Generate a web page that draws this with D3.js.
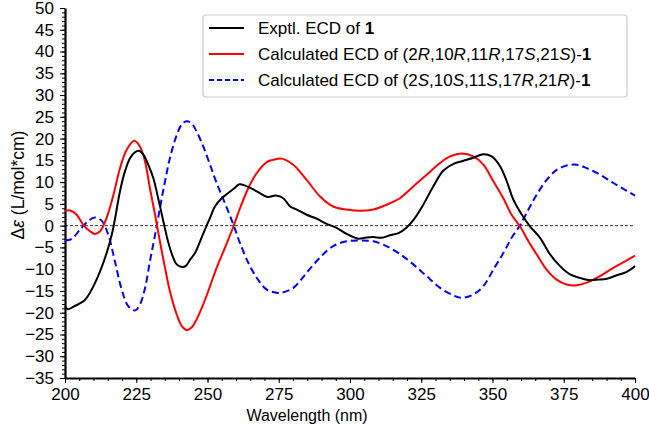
<!DOCTYPE html>
<html>
<head>
<meta charset="utf-8">
<script src="https://cdn.jsdelivr.net/npm/d3@7"></script>
<style>
  body { margin: 0; background: #fff; }
  text { font-family: "Liberation Sans", Arial, sans-serif; fill: #000; }
</style>
</head>
<body>
<div id="chart"></div>
<script>
// Experimental ECD (wavelength nm, delta epsilon)
var exptWl = [200, 201, 203, 206.4, 207.6, 210, 212.3, 214.6, 216.4, 217.5, 219.3, 221, 222.8, 224.6, 226,
    227.5, 229.2, 231, 232.7, 234.5, 236.3, 238, 239.2, 241, 242.3, 243.9, 245.6, 247.4, 249.1, 250.9,
    252.6, 255, 257.3, 259.1, 261.2, 263.2, 265.5, 267.8, 271, 274, 276.6, 279, 281.3, 284.8, 288.3,
    291.8, 295.3, 298.8, 302.9, 305.8, 308.2, 311.1, 314, 317, 319.9, 322.8, 325.7, 329.2, 332.7,
    336.3, 339.8, 343.3, 346.8, 349.7, 352.7, 355, 357.3, 360.3, 363.2, 366.7, 370.2, 373.7, 377.2,
    380.7, 383.6, 387.2, 390.1, 393.6, 397.1, 400];
var exptVal = [-18.5, -19.2, -18.6, -17.4, -16.6, -13.9, -10.5, -6.3, -2.1, 1.4, 7.9, 12.4, 15.5, 16.9, 17.2,
    16.3, 14.0, 10.9, 6.3, 1.0, -4.0, -7.4, -8.9, -9.5, -9.3, -7.8, -6.3, -3.6, -0.9, 1.8,
    4.4, 6.3, 7.5, 8.4, 9.5, 9.2, 8.5, 7.7, 6.6, 6.9, 6.3, 4.4, 3.7, 2.5, 1.6,
    0.4, -0.5, -1.9, -3.0, -2.7, -2.6, -2.8, -2.2, -1.7, -0.4, 1.8, 4.8, 9.0, 12.6,
    14.2, 14.9, 15.6, 16.4, 15.9, 13.6, 10.2, 6.0, 2.5, -0.2, -2.8, -6.6, -9.3, -11.2,
    -12.0, -12.5, -12.4, -12.2, -11.4, -10.6, -9.3];

// Calculated ECD of (2R,10R,11R,17S,21S)-1
var calcRWl = [200, 201.8, 204.1, 206.4, 208.8, 210.5, 212.3, 214.6, 217, 219.3, 221.6, 224.3, 226.3, 228.1,
    229.8, 231.6, 233.3, 235.1, 236.8, 239.2, 241, 242.7, 244.4, 246.2, 248.5, 250.9, 253.2, 256.1,
    259.1, 261.4, 264.3, 267.3, 270.8, 274.3, 276, 280.1, 284.8, 289.5, 294.1, 298.8, 303.5, 308.2,
    312.8, 317.5, 322.2, 326.9, 331.6, 335.1, 339.2, 343.3, 346.8, 350.3, 353.8, 356.7, 359.7,
    362.6, 365.5, 369, 372.5, 376, 379.6, 383.1, 387.7, 392.4, 397.1, 400];
var calcRVal = [3.4, 3.5, 2.5, 0.2, -1.3, -1.9, -1.3, 1.8, 7.1, 13.2, 17.4, 19.5, 18.2, 14.7,
    8.6, 2.5, -3.6, -9.7, -15.0, -20.4, -23.1, -24.0, -23.4, -21.5, -18.1, -13.9, -9.7, -5.1,
    -0.2, 4.0, 8.6, 12.1, 14.6, 15.3, 15.4, 14.0, 10.5, 6.7, 4.4, 3.7, 3.4, 3.7,
    4.8, 6.3, 9.0, 11.7, 14.4, 15.9, 16.6, 15.9, 14.0, 10.2, 6.3, 2.5, -0.2,
    -3.6, -6.6, -10.1, -12.4, -13.5, -13.7, -13.1, -11.6, -9.7, -8.0, -6.9];

// Calculated ECD of (2S,10S,11S,17R,21R)-1
var calcSWl = [200, 202.3, 205.3, 208.2, 210.5, 212.9, 215.2, 217.5, 219.9, 222.2, 224.6, 226.3, 228.1,
    229.8, 231.6, 233.3, 235.1, 236.8, 239.2, 241, 242.7, 244.4, 246.2, 248.5, 250.9, 253.2, 256.1,
    259.1, 261.4, 264.3, 267.3, 270.8, 274.3, 276, 280.1, 284.8, 289.5, 294.1, 298.8, 303.5, 308.2,
    312.8, 317.5, 322.2, 326.9, 331.6, 336.2, 339.2, 343.3, 346.8, 350.3, 353.8, 356.7, 359.7,
    362.6, 365.5, 369, 372.5, 376, 379.6, 383.1, 387.7, 392.4, 397.1, 400];
var calcSVal = [-3.4, -3.1, -0.9, 1.1, 1.9, 1.1, -2.1, -8.2, -14.7, -18.5, -19.5, -18.1, -14.3,
    -8.2, -2.1, 4.0, 10.2, 15.5, 20.8, 23.3, 24.0, 23.5, 21.6, 18.2, 14.0, 9.8, 5.2,
    0.2, -4.0, -8.5, -12.0, -14.7, -15.4, -15.4, -14.3, -10.8, -7.3, -4.7, -3.6, -3.4, -3.6,
    -4.7, -6.5, -8.9, -11.6, -14.3, -16.0, -16.6, -15.8, -13.9, -10.1, -6.3, -2.8, 0.1,
    3.7, 7.1, 10.5, 12.8, 13.8, 14.0, 13.2, 11.7, 9.8, 8.0, 6.9];

var xTicks = [200, 225, 250, 275, 300, 325, 350, 375, 400];
var yTicks = [-35, -30, -25, -20, -15, -10, -5, 0, 5, 10, 15, 20, 25, 30, 35, 40, 45, 50];

var width = 649, height = 428;
var margin = {top: 8, right: 14, bottom: 50, left: 65};

var svg = d3.select("#chart").append("svg")
    .attr("width", width)
    .attr("height", height);

var x = d3.scaleLinear().domain([200, 400]).range([margin.left, width - margin.right]);
var y = d3.scaleLinear().domain([-35, 50]).range([height - margin.bottom, margin.top]);

// minor ticks
svg.append("g")
    .attr("transform", "translate(0," + y(-35) + ")")
    .call(d3.axisBottom(x).tickValues(d3.range(200, 401, 5)).tickSize(3).tickFormat(""))
    .call(function (g) { g.select(".domain").remove(); });
svg.append("g")
    .attr("transform", "translate(" + x(200) + ",0)")
    .call(d3.axisLeft(y).tickValues(d3.range(-35, 51, 1)).tickSize(3).tickFormat(""))
    .call(function (g) { g.select(".domain").remove(); });

// major axes
var xAxis = svg.append("g")
    .attr("transform", "translate(0," + y(-35) + ")")
    .call(d3.axisBottom(x).tickValues(xTicks).tickSize(5).tickSizeOuter(0).tickPadding(5));
var yAxis = svg.append("g")
    .attr("transform", "translate(" + x(200) + ",0)")
    .call(d3.axisLeft(y).tickValues(yTicks).tickSize(5).tickSizeOuter(0).tickPadding(6));

svg.selectAll(".tick line").attr("stroke", "#000").attr("stroke-width", 1);
svg.selectAll(".domain").attr("stroke", "#000").attr("stroke-width", 2.2);
xAxis.selectAll("text").attr("font-size", 17).attr("font-family", "Liberation Sans, Arial, sans-serif");
yAxis.selectAll("text").attr("font-size", 17).attr("font-family", "Liberation Sans, Arial, sans-serif");

// zero line
svg.append("line")
    .attr("x1", x(200)).attr("x2", x(400))
    .attr("y1", y(0)).attr("y2", y(0))
    .attr("stroke", "#000").attr("stroke-width", 0.8)
    .attr("stroke-dasharray", "3,2");

function series(wl, val) {
    return wl.map(function (d, i) { return [d, val[i]]; });
}

var line = d3.line()
    .x(function (d) { return x(d[0]); })
    .y(function (d) { return y(d[1]); })
    .curve(d3.curveCatmullRom.alpha(0.5));

svg.append("path")
    .datum(series(calcSWl, calcSVal))
    .attr("fill", "none").attr("stroke", "#0000ff").attr("stroke-width", 2)
    .attr("stroke-dasharray", "7,4")
    .attr("d", line);
svg.append("path")
    .datum(series(calcRWl, calcRVal))
    .attr("fill", "none").attr("stroke", "#ff0000").attr("stroke-width", 2)
    .attr("d", line);
svg.append("path")
    .datum(series(exptWl, exptVal))
    .attr("fill", "none").attr("stroke", "#000").attr("stroke-width", 2)
    .attr("d", line);

// axis titles
svg.append("text")
    .attr("x", 307).attr("y", 421)
    .attr("text-anchor", "middle")
    .attr("font-size", 16)
    .text("Wavelength (nm)");

var yt = svg.append("text")
    .attr("transform", "translate(24,185) rotate(-90)")
    .attr("text-anchor", "middle")
    .attr("font-size", 17.5);
yt.append("tspan").text("\u0394");
yt.append("tspan").attr("font-style", "italic").text("\u03b5");
yt.append("tspan").text(" (L/mol*cm)");

// legend
var legend = svg.append("g");
legend.append("rect")
    .attr("x", 203).attr("y", 15).attr("width", 424).attr("height", 82)
    .attr("rx", 3).attr("fill", "#fff").attr("stroke", "#ccc").attr("stroke-width", 1.2);

var legendItems = [
    {color: "#000", dash: null, parts: [["Exptl. ECD of ", ""], ["1", "b"]]},
    {color: "#ff0000", dash: null, parts: [["Calculated ECD of (2", ""], ["R", "i"], [",10", ""], ["R", "i"], [",11", ""], ["R", "i"], [",17", ""], ["S", "i"], [",21", ""], ["S", "i"], [")-", ""], ["1", "b"]]},
    {color: "#0000ff", dash: "5,3", parts: [["Calculated ECD of (2", ""], ["S", "i"], [",10", ""], ["S", "i"], [",11", ""], ["S", "i"], [",17", ""], ["R", "i"], [",21", ""], ["R", "i"], [")-", ""], ["1", "b"]]}
];

legendItems.forEach(function (item, i) {
    var cy = 28 + i * 26;
    legend.append("line")
        .attr("x1", 209).attr("x2", 244).attr("y1", cy).attr("y2", cy)
        .attr("stroke", item.color).attr("stroke-width", 2)
        .attr("stroke-dasharray", item.dash);
    var t = legend.append("text")
        .attr("x", 258).attr("y", cy + 6)
        .attr("font-size", 17);
    item.parts.forEach(function (p) {
        var s = t.append("tspan").text(p[0]);
        if (p[1] === "i") s.attr("font-style", "italic");
        if (p[1] === "b") s.attr("font-weight", "bold");
    });
});
</script>
</body>
</html>
